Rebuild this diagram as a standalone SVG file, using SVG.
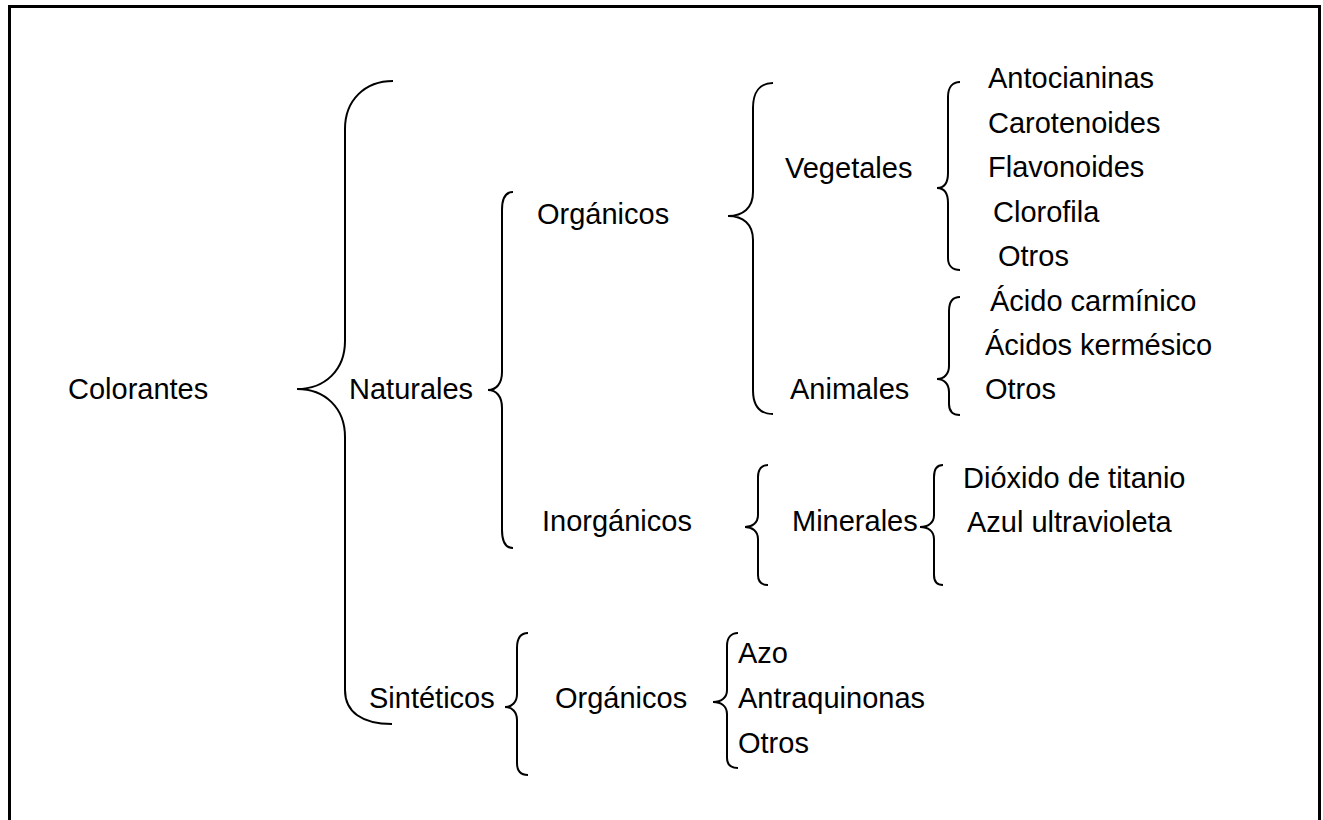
<svg xmlns="http://www.w3.org/2000/svg" width="1323" height="820" viewBox="0 0 1323 820">
<style>
text{font-family:"Liberation Sans",Arial,sans-serif;font-size:29px;fill:#000}
.b{fill:none;stroke:#000;stroke-width:2}
</style>
<rect x="0" y="0" width="1323" height="820" fill="#fff"/>
<rect x="9.5" y="6.5" width="1310" height="830" fill="none" stroke="#000" stroke-width="3"/>
<g id="connectors">
<path class="b" d="M393,81 C365,81 345,100 345,129 L345,341 C345,370 325,389 297,389 C325,389 345,408 345,437 L345,690 C345,712 362,724 392,724"/>
<path class="b" d="M513,192 C506,192 502,197 502,210 L502,372 C502,384 496,390 488,390 C496,390 502,396 502,408 L502,530 C502,543 506,548 513,548"/>
<path class="b" d="M773,83 C760,83 753,92 753,108 L753,192 C753,208 743,216 728,216 C743,216 753,224 753,240 L753,390 C753,406 760,414 773,414"/>
<path class="b" d="M960,82 C953,82 948,87 948,97 L948,173 C948,183 944,188 937,188 C944,188 948,193 948,203 L948,258 C948,266 953,270 960,270"/>
<path class="b" d="M960,297 C953,297 949,302 949,311 L949,366 C949,374 944,379 937,379 C944,379 949,384 949,392 L949,404 C949,411 953,415 960,415"/>
<path class="b" d="M768,465 C762,465 758,469 758,477 L758,515 C758,523 752,527 745,527 C752,527 758,531 758,539 L758,575 C758,582 762,585 768,585"/>
<path class="b" d="M943,465 C937,465 934,469 934,477 L934,515 C934,523 928,527 920,527 C928,527 934,531 934,539 L934,575 C934,582 937,585 943,585"/>
<path class="b" d="M528,633 C521,633 517,638 517,648 L517,694 C517,702 512,707 505,707 C512,707 517,712 517,720 L517,763 C517,771 521,775 528,775"/>
<path class="b" d="M738,633 C731,633 727,638 727,646 L727,690 C727,698 721,702 713,702 C721,702 727,706 727,714 L727,758 C727,765 731,768 738,768"/>
</g>
<g id="n-colorantes"><text x="68" y="399">Colorantes</text></g>
<g id="n-naturales"><text x="349" y="399">Naturales</text></g>
<g id="n-organicos"><text x="537" y="224">Orgánicos</text></g>
<g id="n-inorganicos"><text x="542" y="531">Inorgánicos</text></g>
<g id="n-sinteticos"><text x="369" y="708">Sintéticos</text></g>
<g id="n-organicos2"><text x="555" y="708">Orgánicos</text></g>
<g id="n-vegetales"><text x="785" y="178">Vegetales</text></g>
<g id="n-animales"><text x="790" y="399">Animales</text></g>
<g id="n-minerales"><text x="792" y="531">Minerales</text></g>
<g id="n-antocianinas"><text x="988" y="88">Antocianinas</text></g>
<g id="n-carotenoides"><text x="988" y="133">Carotenoides</text></g>
<g id="n-flavonoides"><text x="988" y="177">Flavonoides</text></g>
<g id="n-clorofila"><text x="993" y="222">Clorofila</text></g>
<g id="n-otros1"><text x="998" y="266">Otros</text></g>
<g id="n-carminico"><text x="990" y="311">Ácido carmínico</text></g>
<g id="n-kermesico"><text x="985" y="355">Ácidos kermésico</text></g>
<g id="n-otros2"><text x="985" y="399">Otros</text></g>
<g id="n-dioxido"><text x="963" y="488">Dióxido de titanio</text></g>
<g id="n-azul"><text x="967" y="532">Azul ultravioleta</text></g>
<g id="n-azo"><text x="738" y="663">Azo</text></g>
<g id="n-antraquinonas"><text x="738" y="708">Antraquinonas</text></g>
<g id="n-otros3"><text x="738" y="753">Otros</text></g>
</svg>
